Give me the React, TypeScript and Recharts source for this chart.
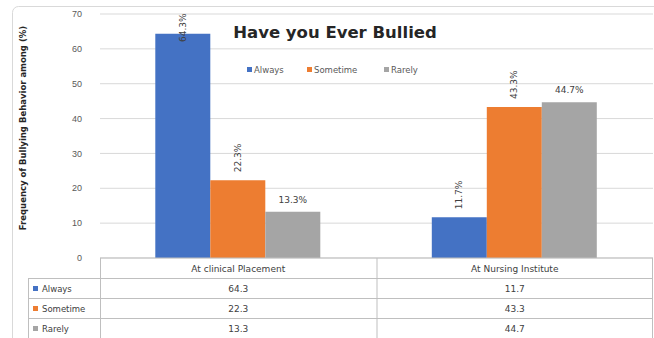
import React from 'react';
import { BarChart, Bar, XAxis, YAxis, CartesianGrid, LabelList } from 'recharts';

const categories = ['At clinical Placement', 'At Nursing Institute'];
const always = [64.3, 11.7];
const sometime = [22.3, 43.3];
const rarely = [13.3, 44.7];
const yTicks = [0, 10, 20, 30, 40, 50, 60, 70];
const title = 'Have you Ever Bullied';
const yLabel = 'Frequency of Bullying Behavior among (%)';

const series = [
  { key: 'always', name: 'Always', color: '#4472C4', values: always, rotate: true },
  { key: 'sometime', name: 'Sometime', color: '#ED7D31', values: sometime, rotate: true },
  { key: 'rarely', name: 'Rarely', color: '#A5A5A5', values: rarely, rotate: false },
];

const data = categories.map((c, i) => {
  const row: any = { category: c };
  series.forEach((s) => (row[s.key] = s.values[i]));
  return row;
});

const W = 654;
const H = 338;
const PLOT_TOP = 14;
const PLOT_LEFT = 100;
const PLOT_RIGHT = 653;
const PLOT_BOTTOM = 258;
const FONT = '"Liberation Sans", Arial, sans-serif';
const WIDE = '"DejaVu Sans", Verdana, sans-serif';
const ROW_LINES = [278, 298, 318];

const makeLabel = (rotate: boolean) => (props: any) => {
  const { x, y, width, value } = props;
  const cx = Number(x) + Number(width) / 2;
  const text = `${value}%`;
  if (rotate) {
    const sy = Math.max(Number(y) - 8, PLOT_TOP + 28);
    return (
      <text x={cx} y={sy} transform={`rotate(-90 ${cx} ${sy})`} textAnchor="start" dominantBaseline="central" fontSize={9} fill="#404040" fontFamily={WIDE}>
        {text}
      </text>
    );
  }
  return (
    <text x={cx} y={Number(y) - 9} textAnchor="middle" fontSize={9} fill="#404040" fontFamily={WIDE}>
      {text}
    </text>
  );
};

const CategoryTick = (props: any) => {
  const { x, index, payload } = props;
  const rowsY = [PLOT_BOTTOM + 14, ...ROW_LINES.map((l) => l + 14)];
  return (
    <g>
      <text x={x} y={rowsY[0]} textAnchor="middle" fontSize={9} fill="#404040" fontFamily={WIDE}>
        {payload.value}
      </text>
      {series.map((s, i) => (
        <text key={s.key} x={x} y={rowsY[i + 1]} textAnchor="middle" fontSize={9} fill="#404040" fontFamily={WIDE}>
          {s.values[index]}
        </text>
      ))}
    </g>
  );
};

export default function App() {
  const colDivider = (PLOT_LEFT + PLOT_RIGHT) / 2;
  return (
    <div style={{ position: 'absolute', left: 0, top: 0, width: W, height: H, background: '#fff', fontFamily: FONT }}>
      <BarChart width={W} height={H} data={data} margin={{ top: PLOT_TOP, right: W - PLOT_RIGHT, left: 0, bottom: 0 }} barCategoryGap="20%" barGap={0}>
        <CartesianGrid vertical={false} stroke="#d9d9d9" />
        <XAxis dataKey="category" height={H - PLOT_BOTTOM} axisLine={{ stroke: '#bfbfbf' }} tickLine={false} tickSize={0} tickMargin={0} tick={<CategoryTick />} interval={0} />
        <YAxis width={PLOT_LEFT} domain={[0, 70]} ticks={yTicks} axisLine={false} tickLine={false} tickSize={0} tickMargin={18} tick={{ fontSize: 9, fill: '#595959', fontFamily: FONT }} />
        {series.map((s) => (
          <Bar key={s.key} dataKey={s.key} name={s.name} fill={s.color} isAnimationActive={false}>
            <LabelList dataKey={s.key} content={makeLabel(s.rotate)} />
          </Bar>
        ))}
      </BarChart>
      <svg width={W} height={H} style={{ position: 'absolute', left: 0, top: 0, pointerEvents: 'none' }}>
        <rect x={12.5} y={6.5} width={720} height={400} rx={6} fill="none" stroke="#d9d9d9" />
        <text x={335} y={38} textAnchor="middle" fontSize={16.5} fontWeight="bold" fill="#262626" fontFamily={WIDE}>
          {title}
        </text>
        <g fontFamily={WIDE} fontSize={8.5} fill="#595959">
          {series.map((s, i) => {
            const lx = [247, 307, 384][i];
            return (
              <g key={s.key}>
                <rect x={lx} y={67} width={5} height={5} fill={s.color} />
                <text x={lx + 7} y={72.5}>{s.name}</text>
              </g>
            );
          })}
        </g>
        <text x={23} y={128} transform="rotate(-90 23 128)" textAnchor="middle" dominantBaseline="central" fontSize={8.5} fontWeight="bold" fill="#262626" fontFamily={WIDE}>
          {yLabel}
        </text>
        <g stroke="#bfbfbf" strokeWidth={1}>
          {ROW_LINES.map((ly) => (
            <line key={ly} x1={28} x2={PLOT_RIGHT} y1={ly + 0.5} y2={ly + 0.5} />
          ))}
          <line x1={PLOT_LEFT + 0.5} x2={PLOT_LEFT + 0.5} y1={PLOT_BOTTOM} y2={H} />
          <line x1={colDivider + 0.5} x2={colDivider + 0.5} y1={PLOT_BOTTOM} y2={H} />
          <line x1={PLOT_RIGHT - 0.5} x2={PLOT_RIGHT - 0.5} y1={PLOT_BOTTOM} y2={H} />
          <line x1={28.5} x2={28.5} y1={ROW_LINES[0]} y2={H} />
        </g>
        <g fontFamily={WIDE} fontSize={8.5} fill="#404040">
          {series.map((s, i) => (
            <g key={s.key}>
              <rect x={33} y={ROW_LINES[i] + 8} width={5} height={5} fill={s.color} />
              <text x={42} y={ROW_LINES[i] + 14}>{s.name}</text>
            </g>
          ))}
        </g>
      </svg>
    </div>
  );
}
